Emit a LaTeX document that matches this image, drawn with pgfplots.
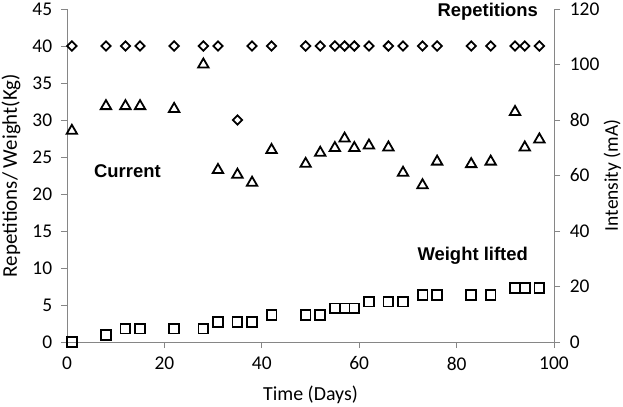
\documentclass[border=0pt]{standalone}
\usepackage{pgfplots}
\pgfplotsset{compat=1.18}
\usepackage{pgfplotstable}
\usepackage{fontspec}
\setmainfont{Carlito}
\newfontfamily\arialb[BoldFont={Liberation Sans Bold}]{Liberation Sans}
\definecolor{axgray}{RGB}{134,134,134}

\pgfplotstableread{
day rep cur wt
1  40 76.1 0
8  40 85.0 0.91
12 40 85.0 1.82
15 40 85.0 1.82
22 40 84.0 1.82
28 40 100.0 1.82
31 40 62.0 2.73
35 30 60.3 2.73
38 40 57.4 2.73
42 40 69.2 3.64
49 40 64.2 3.64
52 40 68.2 3.64
55 40 69.9 4.55
57 40 73.3 4.55
59 40 69.9 4.55
62 40 70.8 5.45
66 40 70.1 5.45
69 40 61.0 5.45
73 40 56.5 6.36
76 40 65.0 6.36
83 40 64.1 6.36
87 40 65.0 6.36
92 40 82.9 7.27
94 40 70.1 7.27
97 40 73.0 7.27
}\data

\begin{document}
\fontsize{17}{20}\selectfont
\begin{tikzpicture}
\useasboundingbox (-67bp,-65bp) rectangle (556bp,342bp);
\pgfplotsset{
  every axis/.append style={
    scale only axis, width=487bp, height=333bp,
    xmin=0, xmax=100,
    tick align=outside,
    major tick length=6bp,
    tick style={axgray, line width=0.8pt},
    axis line style={axgray, line width=0.8pt},
    /pgf/number format/assume math mode=true,
    tick label style={font=\fontsize{19.5}{21}\selectfont, black},
  },
}
\begin{axis}[
  at={(0,0)}, anchor=south west,
  axis x line*=bottom, axis y line*=left,
  ymin=0, ymax=45,
  xtick={0,20,...,100}, ytick={0,5,...,45},
  xlabel={Time (Days)}, ylabel={Repetitions/ Weight(Kg)},
  xlabel style={at={(axis description cs:0.5,-0.158)}, anchor=center, font=\fontsize{20}{22}\selectfont},
  ylabel style={at={(axis description cs:-0.115,0.5)}, anchor=center, font=\fontsize{21}{23}\selectfont},
  yticklabel style={xshift=-3bp},
  xticklabel style={yshift=-3bp},
  clip=false,
]
\addplot[only marks, mark=square, mark size=3.3bp, line width=1.8pt, mark options={rotate=45, solid, black, fill=white}] table[x=day, y=rep] {\data};
\addplot[only marks, mark=square, mark size=4.9bp, line width=1.8pt, mark options={solid, black, fill=white}] table[x=day, y=wt] {\data};
\node[font=\arialb\bfseries\fontsize{18.5}{20}\selectfont] at (axis cs:86.4,44.6) {Repetitions};
\node[font=\arialb\bfseries\fontsize{18.5}{20}\selectfont] at (axis cs:12.4,23.1) {Current};
\node[font=\arialb\bfseries\fontsize{18.5}{20}\selectfont] at (axis cs:83.3,11.7) {Weight lifted};
\end{axis}
\begin{axis}[
  at={(0,0)}, anchor=south west,
  axis x line=none, axis y line*=right,
  ymin=0, ymax=120,
  ytick={0,20,...,120},
  ylabel={Intensity (mA)},
  ylabel style={at={(axis description cs:1.120,0.5)}, anchor=center, font=\fontsize{19.5}{21}\selectfont},
  yticklabel style={xshift=4bp},
  clip=false,
]
\addplot[only marks, mark=triangle, mark size=6bp, line width=1.8pt, mark options={solid, black, fill=white}] table[x=day, y=cur] {\data};
\end{axis}
\end{tikzpicture}
\end{document}
